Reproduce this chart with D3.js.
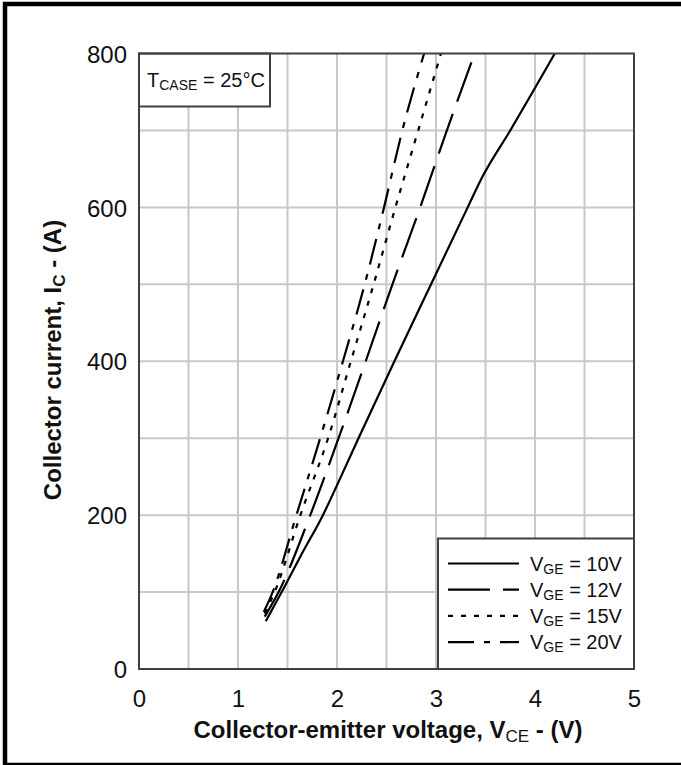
<!DOCTYPE html>
<html>
<head>
<meta charset="utf-8">
<script src="https://cdn.jsdelivr.net/npm/d3@7"></script>
<style>
  body { margin: 0; background: #fff; }
  svg { display: block; font-family: "Liberation Sans", Arial, sans-serif; }
</style>
</head>
<body>
<svg id="chart" width="681" height="765"></svg>
<script>
// Output characteristics, Tcase = 25°C, [V_CE (V), I_C (A)]
const vge10 = [[1.28, 62], [1.47, 107], [1.65, 151], [1.85, 198], [2.04, 250], [2.21, 298],
  [2.58, 400], [2.95, 500], [3.32, 600], [3.47, 640], [3.75, 700], [4.20, 800]];
const vge12 = [[1.27, 68], [1.41, 100], [1.73, 200], [2.01, 298], [2.29, 400], [2.56, 500],
  [2.84, 600], [3.11, 700], [3.39, 800]];
const vge15 = [[1.27, 72], [1.37, 100], [1.63, 200], [1.91, 300], [2.14, 400], [2.37, 500],
  [2.59, 600], [2.82, 700], [3.05, 800]];
const vge20 = [[1.26, 74], [1.35, 100], [1.59, 200], [1.83, 300], [2.06, 400], [2.28, 500],
  [2.475, 600], [2.66, 700], [2.88, 800]];

const xTicks = [0, 1, 2, 3, 4, 5];
const yTicks = [0, 200, 400, 600, 800];
const legendLabels = ["10V", "12V", "15V", "20V"];

const series = [
  { data: vge10, dash: null },
  { data: vge12, dash: "42,13" },
  { data: vge15, dash: "5,8" },
  { data: vge20, dash: "26,10,6,10" }
];

const svg = d3.select("#chart");

// outer frame (right side is cut off in the original)
svg.append("rect")
  .attr("x", 5).attr("y", 4)
  .attr("width", 800).attr("height", 761)
  .attr("fill", "none").attr("stroke", "#000").attr("stroke-width", 4.5);

const pLeft = 139, pRight = 634, pTop = 53.5, pBottom = 669;
const x = d3.scaleLinear().domain([0, 5]).range([pLeft, pRight]);
const y = d3.scaleLinear().domain([0, 800]).range([pBottom, pTop]);

// grid
const grid = svg.append("g").attr("stroke", "#c8c8c8").attr("stroke-width", 2);
grid.selectAll(".vg")
  .data(d3.range(0.5, 5, 0.5))
  .join("line")
  .attr("x1", d => x(d)).attr("x2", d => x(d))
  .attr("y1", pTop).attr("y2", pBottom);
grid.selectAll(".hg")
  .data(d3.range(100, 800, 100))
  .join("line")
  .attr("x1", pLeft).attr("x2", pRight)
  .attr("y1", d => y(d)).attr("y2", d => y(d));

// curves
svg.append("clipPath").attr("id", "clip")
  .append("rect").attr("x", pLeft).attr("y", pTop)
  .attr("width", pRight - pLeft).attr("height", pBottom - pTop);

const line = d3.line()
  .x(d => x(d[0]))
  .y(d => y(d[1]))
  .curve(d3.curveMonotoneX);

svg.append("g").attr("clip-path", "url(#clip)")
  .selectAll("path")
  .data(series)
  .join("path")
  .attr("d", d => line(d.data))
  .attr("fill", "none")
  .attr("stroke", "#000")
  .attr("stroke-width", 2.2)
  .attr("stroke-dasharray", d => d.dash);

// Tcase box
const tbox = svg.append("g");
tbox.append("rect")
  .attr("x", pLeft).attr("y", pTop)
  .attr("width", 131).attr("height", 53)
  .attr("fill", "#fff").attr("stroke", "#404040").attr("stroke-width", 2);
const tText = tbox.append("text")
  .attr("x", 147).attr("y", 87)
  .attr("font-size", 20).attr("fill", "#111");
tText.append("tspan").text("T");
tText.append("tspan").attr("font-size", 14).attr("dy", 3).text("CASE");
tText.append("tspan").attr("dy", -3).text(" = 25°C");

// legend
const lg = svg.append("g");
lg.append("rect")
  .attr("x", 438).attr("y", 538.5)
  .attr("width", pRight - 438).attr("height", pBottom - 538.5)
  .attr("fill", "#fff").attr("stroke", "#404040").attr("stroke-width", 2);
const rows = lg.selectAll(".row")
  .data(series)
  .join("g")
  .attr("transform", (d, i) => `translate(0,${563.5 + i * 26.2})`);
rows.append("line")
  .attr("x1", 448).attr("x2", 519)
  .attr("stroke", "#000").attr("stroke-width", 2.2)
  .attr("stroke-dasharray", d => d.dash);
const lt = rows.append("text")
  .attr("x", 530).attr("y", 7)
  .attr("font-size", 20).attr("fill", "#111");
lt.append("tspan").text("V");
lt.append("tspan").attr("font-size", 14).attr("dy", 3).text("GE");
lt.append("tspan").attr("dy", -3).text((d, i) => " = " + legendLabels[i]);

// plot frame
svg.append("rect")
  .attr("x", pLeft).attr("y", pTop)
  .attr("width", pRight - pLeft).attr("height", pBottom - pTop)
  .attr("fill", "none").attr("stroke", "#404040").attr("stroke-width", 2);

// axes
const xAxis = svg.append("g")
  .attr("transform", `translate(0,${pBottom})`)
  .call(d3.axisBottom(x).tickValues(xTicks).tickSize(0).tickPadding(0).tickFormat(d3.format("d")));
xAxis.select(".domain").remove();
xAxis.selectAll("text")
  .attr("font-size", 24).attr("font-family", null).attr("fill", "#111")
  .attr("dy", null).attr("y", 38);

const yAxis = svg.append("g")
  .attr("transform", `translate(${pLeft},0)`)
  .call(d3.axisLeft(y).tickValues(yTicks).tickSize(0).tickPadding(12).tickFormat(d3.format("d")));
yAxis.select(".domain").remove();
yAxis.selectAll("text")
  .attr("font-size", 24).attr("font-family", null).attr("fill", "#111")
  .attr("dy", "0.36em");

// axis titles
const xt = svg.append("text")
  .attr("x", 388).attr("y", 738)
  .attr("text-anchor", "middle")
  .attr("font-size", 24).attr("font-weight", "bold").attr("fill", "#111");
xt.append("tspan").text("Collector-emitter voltage, V");
xt.append("tspan").attr("font-size", 17).attr("font-weight", "normal").attr("dy", 4).text("CE");
xt.append("tspan").attr("dy", -4).text(" - (V)");

const yt = svg.append("text")
  .attr("transform", "translate(61,360) rotate(-90)")
  .attr("text-anchor", "middle")
  .attr("font-size", 24).attr("font-weight", "bold").attr("fill", "#111");
yt.append("tspan").text("Collector current, I");
yt.append("tspan").attr("font-size", 17).attr("dy", 4).text("C");
yt.append("tspan").attr("dy", -4).text(" - (A)");
</script>
</body>
</html>
